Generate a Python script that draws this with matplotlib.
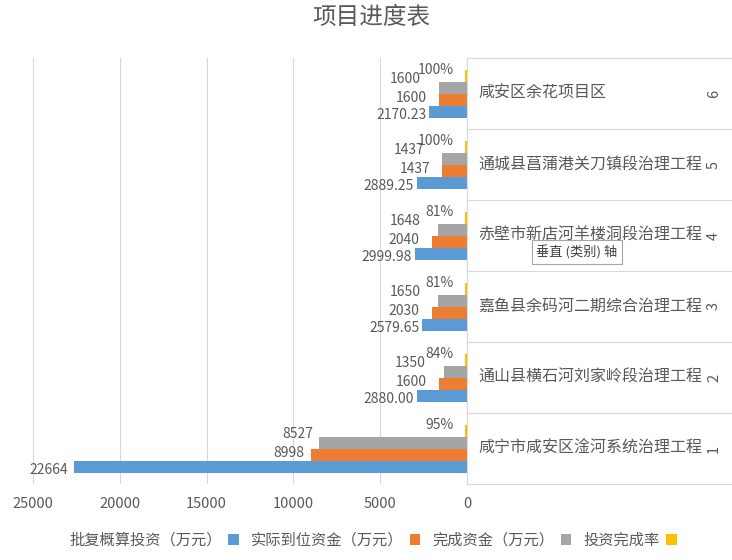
import matplotlib
matplotlib.use("Agg")
import matplotlib.pyplot as plt
import matplotlib.transforms as mtransforms
from matplotlib.patches import Patch
import numpy as np

plt.rcParams['font.family'] = ['Noto Sans CJK SC', 'DejaVu Sans']

# categories, bottom (1) to top (6)
cat_nums = ['1', '2', '3', '4', '5', '6']
cat_names = ['咸宁市咸安区淦河系统治理工程', '通山县横石河刘家岭段治理工程',
             '嘉鱼县余码河二期综合治理工程', '赤壁市新店河羊楼洞段治理工程',
             '通城县菖蒲港关刀镇段治理工程', '咸安区余花项目区']

approved = [22664, 2880.00, 2579.65, 2999.98, 2889.25, 2170.23]
approved_lbl = ['22664', '2880.00', '2579.65', '2999.98', '2889.25', '2170.23']
received = [8998, 1600, 2030, 2040, 1437, 1600]
completed = [8527, 1350, 1650, 1648, 1437, 1600]
rate = [0.95, 0.84, 0.81, 0.81, 1.00, 1.00]
rate_lbl = ['95%', '84%', '81%', '81%', '100%', '100%']

series_names = ['批复概算投资（万元）', '实际到位资金（万元）', '完成资金（万元）', '投资完成率']
colors = ['#5B9BD5', '#ED7D31', '#A5A5A5', '#FFC000']
xticks = [0, 5000, 10000, 15000, 20000, 25000]

txt = '#595959'
W, H = 732, 560

fig = plt.figure(figsize=(W / 100, H / 100), dpi=100)
ax = fig.add_axes([20 / W, 76 / H, 447 / W, 426 / H])

y = np.arange(len(cat_nums))
h = 0.17
offs = [-0.26, -0.09, 0.08, 0.25]
vals = [approved, received, completed, rate]

for v, off, c in zip(vals, offs, colors):
    ax.barh(y + off, v, height=h, color=c, edgecolor=c if c == '#FFC000' else 'none',
            linewidth=3 if c == '#FFC000' else 0)

# data labels (px offsets -> points)
labels = [approved_lbl, [str(v) for v in received], [str(v) for v in completed], rate_lbl]
dx_px = [-3, -12, -18, -13]
dy_px = [-3, 2, 9, 6]
for v, lb, off, dx, dy in zip(vals, labels, offs, dx_px, dy_px):
    for yi, val, s in zip(y, v, lb):
        ddx = dx if val < 5000 else -6
        ax.annotate(s, (val, yi + off), xytext=(ddx * 0.72, dy * 0.72),
                    textcoords='offset points', ha='right', va='center',
                    fontsize=10, color=txt)

ax.set_xlim(25750, 0)
ax.set_ylim(-0.5, 5.5)
ax.set_xticks(xticks)
ax.set_xticklabels([str(t) for t in xticks], fontsize=10.5, color=txt)
ax.tick_params(axis='x', length=0, pad=9)
ax.set_yticks([])
ax.xaxis.grid(True, color='#D9D9D9', linewidth=0.8)
ax.set_axisbelow(True)
for s in ['top', 'bottom', 'left']:
    ax.spines[s].set_visible(False)
ax.spines['right'].set_color('#D9D9D9')

# category table on the right
tr = mtransforms.blended_transform_factory(fig.transFigure, ax.transData)
for b in np.arange(-0.5, len(cat_nums), 1.0):
    ax.plot([467 / W, 1.0], [b, b], color='#D9D9D9', linewidth=0.8,
            transform=tr, clip_on=False)
for yi, num, name in zip(y, cat_nums, cat_names):
    ax.text(478 / W, yi, name, transform=tr, ha='left', va='center',
            fontsize=11.5, color=txt)
    ax.text(714 / W, yi, num, transform=tr, ha='center', va='center',
            fontsize=10.5, color=txt, rotation=90)

# tooltip box left on the category axis
fig.text(577 / W, 1 - 252 / H, '垂直 (类别) 轴', ha='center', va='center',
         fontsize=9.5, color='#404040',
         bbox=dict(boxstyle='square,pad=0.35', facecolor='white', edgecolor='#A6A6A6', linewidth=0.8))

fig.text(371 / W, 1 - 18 / H, '项目进度表', ha='center', va='center',
         fontsize=17, color=txt)

handles = [Patch(facecolor=c, edgecolor='none') for c in colors]
fig.legend(handles, series_names, loc='center', bbox_to_anchor=(373 / W, 1 - 540 / H),
           ncol=4, frameon=False, markerfirst=False, handlelength=0.7, handleheight=0.7,
           handletextpad=0.4, columnspacing=0.8, fontsize=11, labelcolor=txt)

fig.savefig('out.png', dpi=100)
